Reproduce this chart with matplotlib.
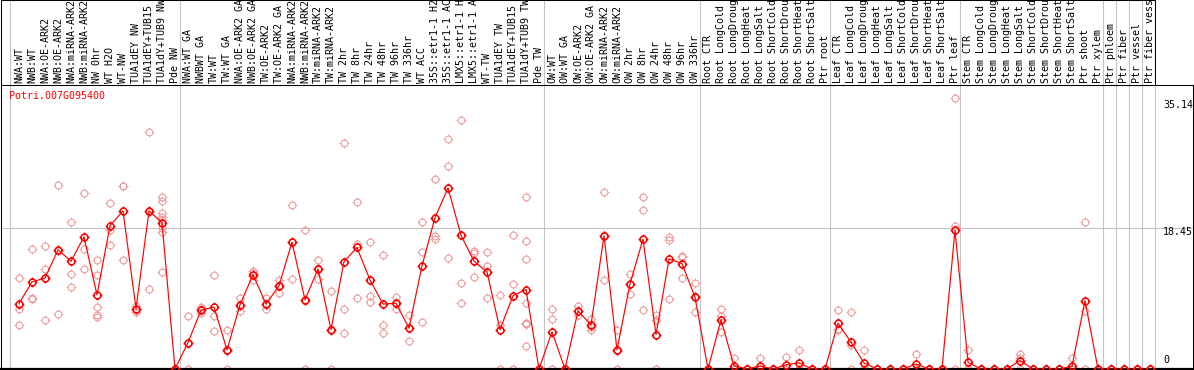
import numpy as np
import matplotlib
matplotlib.use("Agg")
import matplotlib.pyplot as plt
from matplotlib.path import Path

# ---------------- data ----------------
gene = "Potri.007G095400"

labels = [
    "NWA:WT", "NWB:WT", "NWA:OE-ARK2", "NWB:OE-ARK2", "NWA:miRNA-ARK2", "NWB:miRNA-ARK2",
    "NW 0hr", "WT H2O", "WT-NW", "TUA1dEY NW", "TUA1dEY+TUB15 NW", "TUA1dY+TUB9 NW", "Pde NW",
    "NWA:WT GA", "NWBWT GA", "TW:WT", "TW:WT GA", "NWA:OE-ARK2 GA", "NWB:OE-ARK2 GA",
    "TW:OE-ARK2", "TW:OE-ARK2 GA", "NWA:miRNA-ARK2", "NWB:miRNA-ARK2", "TW:miRNA-ARK2",
    "TW:miRNA-ARK2", "TW 2hr", "TW 8hr", "TW 24hr", "TW 48hr", "TW 96hr", "TW 336hr",
    "WT ACC", "35S::etr1-1 H2O", "35S::etr1-1 ACC", "LMX5::etr1-1 H2O", "LMX5::etr1-1 ACC",
    "WT-TW", "TUA1dEY TW", "TUA1dEY+TUB15 TW", "TUA1dY+TUB9 TW", "Pde TW",
    "OW:WT", "OW:WT GA", "OW:OE-ARK2", "OW:OE-ARK2 GA", "OW:miRNA-ARK2", "OW:miRNA-ARK2",
    "OW 2hr", "OW 8hr", "OW 24hr", "OW 48hr", "OW 96hr", "OW 336hr",
    "Root CTR", "Root LongCold", "Root LongDrought", "Root LongHeat", "Root LongSalt",
    "Root ShortCold", "Root ShortDrought", "Root ShortHeat", "Root ShortSalt", "Ptr root",
    "Leaf CTR", "Leaf LongCold", "Leaf LongDrought", "Leaf LongHeat", "Leaf LongSalt",
    "Leaf ShortCold", "Leaf ShortDrought", "Leaf ShortHeat", "Leaf ShortSalt", "Ptr leaf",
    "Stem CTR", "Stem LongCold", "Stem LongDrought", "Stem LongHeat", "Stem LongSalt",
    "Stem ShortCold", "Stem ShortDrought", "Stem ShortHeat", "Stem ShortSalt", "Ptr shoot",
    "Ptr xylem", "Ptr phloem", "Ptr fiber", "Ptr vessel", "Ptr fiber vessel",
]

group_sizes = [13, 28, 12, 10, 10, 11, 1, 1, 1, 1]

means = [
    8.55, 11.4, 11.9, 15.6, 14.1, 17.3, 9.7, 18.75, 20.7, 7.9, 20.7, 19.15, 0.0,
    3.45, 7.7, 8.1, 2.5, 8.4, 12.35, 8.5, 10.9, 16.6, 9.05, 13.1, 5.15, 14.05, 15.9,
    11.65, 8.5, 8.6, 5.35, 13.5, 19.8, 23.7, 17.5, 14.1, 12.7, 5.15, 9.6, 10.4, 0.0,
    4.85, 0.0, 7.6, 5.75, 17.45, 2.5, 11.15, 17.0, 4.5, 14.4, 13.8, 9.4,
    0.0, 6.45, 0.43, 0.0, 0.4, 0.0, 0.55, 0.8, 0.0, 0.0,
    6.0, 3.5, 0.8, 0.0, 0.0, 0.0, 0.65, 0.0, 0.0, 18.15,
    0.87, 0.0, 0.0, 0.0, 1.1, 0.0, 0.0, 0.0, 0.35, 8.95, 0.0,
    0.0, 0.0, 0.0, 0.0,
]

replicates = [
    [11.9, 7.9, 5.75], [15.7, 9.3, 9.2], [16.1, 13.1, 6.45], [24.1, 15.5, 7.2],
    [19.2, 12.4, 10.7], [23.0, 15.7, 13.1], [14.3, 12.3, 8.1, 7.1, 6.8],
    [21.7, 18.2, 16.2], [23.9, 23.9, 14.3], [8.3, 7.75, 7.45], [31.05, 20.55, 10.5],
    [22.45, 22.0, 20.4, 19.9, 19.45, 18.45, 17.9, 12.7], [0.0, 0.0, 0.0],
    [6.9, 3.45, 0.0], [8.15, 7.9, 7.3], [12.35, 6.9, 5.0], [5.15, 2.35, 0.0],
    [9.3, 8.3, 7.6], [12.85, 12.5, 11.7], [9.3, 8.35, 7.85], [11.7, 11.05, 9.95],
    [21.4, 16.6, 11.8], [18.2, 8.95, 0.0], [14.3, 13.2, 11.8], [10.25, 5.2, 0.0],
    [29.6, 7.9, 4.75], [21.85, 16.35, 9.3], [16.6, 9.6, 8.75], [14.95, 5.8, 4.75],
    [9.4, 8.55, 7.85], [7.05, 5.3, 3.7], [19.25, 15.3, 6.15], [24.85, 17.45, 17.05],
    [30.15, 26.55, 14.5], [32.6, 11.25, 8.65], [15.5, 15.2, 12.05], [15.3, 13.5, 9.3],
    [9.7, 5.8, 0.0], [17.55, 11.15, 0.0],
    [22.5, 16.75, 14.4, 8.65, 6.0, 5.9, 5.85, 3.05], [0.0, 0.0, 0.0],
    [7.9, 6.6, 0.0], [0.0, 0.0, 0.0], [8.2, 7.55, 7.05], [6.55, 5.55, 5.15],
    [23.15, 17.5, 11.7], [5.15, 2.35, 0.0], [12.45, 11.15, 9.85], [22.5, 20.8, 7.75],
    [7.05, 6.45, 0.0], [17.25, 16.9, 9.15], [14.85, 14.6, 11.9], [11.25, 9.5, 7.45],
    [0.0, 0.0, 0.0], [7.9, 6.9, 4.85], [1.45, 0.0, 0.0], [0.0, 0.0, 0.0],
    [1.45, 0.0, 0.0], [0.0, 0.0, 0.0], [1.55, 0.0, 0.0], [2.5, 0.0, 0.0],
    [0.0, 0.0, 0.0], [0.0, 0.0, 0.0],
    [7.75, 5.2, 5.05], [7.45, 3.2, 0.0], [2.5, 0.0, 0.0], [0.0, 0.0, 0.0],
    [0.0, 0.0, 0.0], [0.0, 0.0, 0.0], [1.95, 0.0, 0.0], [0.0, 0.0, 0.0],
    [0.0, 0.0, 0.0], [35.4, 18.7, 0.0],
    [2.5, 0.0, 0.0], [0.0, 0.0, 0.0], [0.0, 0.0, 0.0], [0.0, 0.0, 0.0],
    [1.95, 1.5, 0.0], [0.0, 0.0, 0.0], [0.0, 0.0, 0.0], [0.0, 0.0, 0.0],
    [1.5, 0.0, 0.0], [19.3, 7.55, 0.0], [0.0, 0.0, 0.0],
    [0.0, 0.0, 0.0], [0.0, 0.0, 0.0], [0.0, 0.0, 0.0], [0.0, 0.0, 0.0],
]

tick_values = [35.14, 18.45, 0]

# ---------------- style ----------------
W, H = 1194, 370
FONT = "DejaVu Sans Mono"
FS = 7.2
RED = "#ff0000"
PINK = "#ee9a9a"
GRID = "#c4c4c4"

fig = plt.figure(figsize=(W / 100, H / 100), dpi=100)


def rect(l, t, r, b):
    return [l / W, 1 - b / H, (r - l) / W, (b - t) / H]


ax = fig.add_axes(rect(1, 85, 1193, 369))
hx = fig.add_axes(rect(1, 0, 1155, 85))

# marker: circle with small ticks (pixel-art style)
circ = Path.unit_circle()
parts = [Path(circ.vertices * 0.7, circ.codes)]
for dx, dy in [(0, 1), (0, -1), (1, 0), (-1, 0)]:
    parts.append(Path([[dx * 0.7, dy * 0.7], [dx * 1.0, dy * 1.0]],
                      [Path.MOVETO, Path.LINETO]))
mark = Path.make_compound_path(*parts)

n = len(labels)
x = np.arange(n)

x0 = -18 / 13
ax.set_xlim(x0, (1193 - 19) / 13)
hx.set_xlim(x0, (1155 - 19) / 13)
ytop = (369 - 85) / 7.642
ax.set_ylim(0, ytop)
hx.set_ylim(0, 1)

for a in (ax, hx):
    a.set_xticks([])
    a.set_yticks([])
    for s in a.spines.values():
        s.set_color("black")
        s.set_linewidth(0.75)
ax.spines["bottom"].set_linewidth(1.6)

# vertical separators
bounds = [-0.69]
acc = 0
for g in group_sizes:
    acc += g
    bounds.append(acc - 1 + 0.38)
for b in bounds:
    ax.axvline(b, color=GRID, lw=0.8, zorder=1)
    hx.axvline(b, color=GRID, lw=0.8, zorder=1)

ax.axhline(tick_values[1], color=GRID, lw=0.8, zorder=1)

# replicate points
for i, r in enumerate(replicates):
    ax.plot([i] * len(r), r, ls="none", marker=mark, ms=7.0, mfc="none",
            mec=PINK, mew=0.75, zorder=2, clip_on=False)

# mean line
ax.plot(x, means, color=RED, lw=0.85, zorder=3)
ax.plot(x, means, ls="none", marker=mark, ms=7.0, mfc="none", mec=RED,
        mew=1.1, zorder=4, clip_on=False)

# gene name
ax.text((9.5 - 1) / 1192, (369 - 91) / 284, gene, transform=ax.transAxes,
        color=RED, family=FONT, fontsize=FS, ha="left", va="top")

# value labels on the right
lx = (1163 - 19) / 13
for v in tick_values:
    if v == 0:
        ax.text(lx, 0.55, "0", family=FONT, fontsize=FS, ha="left",
                va="bottom", color="black")
    else:
        ax.text(lx, v + 0.1, f"{v:.2f}", family=FONT, fontsize=FS, ha="left",
                va="top", color="black")

# header labels
for i, lab in enumerate(labels):
    hx.text(i, 2 / 85, lab, rotation=90, ha="center", va="bottom",
            family=FONT, fontsize=FS, color="black", clip_on=True)

fig.savefig("out.png", dpi=100)
